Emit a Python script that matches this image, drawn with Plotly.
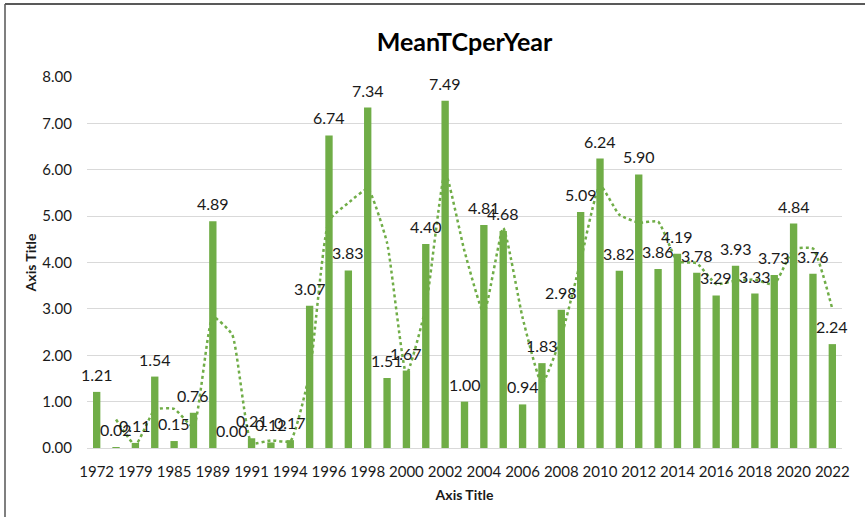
import plotly.graph_objects as go
import pandas as pd

# Years (categories) and mean TC values per year
years = ["1972", "1976", "1979", "1983", "1985", "1987", "1989", "1990", "1991", "1993",
         "1994", "1995", "1996", "1997", "1998", "1999", "2000", "2001", "2002", "2003",
         "2004", "2005", "2006", "2007", "2008", "2009", "2010", "2011", "2012", "2013",
         "2014", "2015", "2016", "2017", "2018", "2019", "2020", "2021", "2022"]
mean_tc = [1.21, 0.02, 0.11, 1.54, 0.15, 0.76, 4.89, 0.00, 0.21, 0.12,
           0.17, 3.07, 6.74, 3.83, 7.34, 1.51, 1.67, 4.40, 7.49, 1.00,
           4.81, 4.68, 0.94, 1.83, 2.98, 5.09, 6.24, 3.82, 5.90, 3.86,
           4.19, 3.78, 3.29, 3.93, 3.33, 3.73, 4.84, 3.76, 2.24]
y_ticks = [0, 1, 2, 3, 4, 5, 6, 7, 8]

GREEN = "#70AD47"
TEXT = "#1A1A1A"
FONT = "Lato, 'Open Sans', sans-serif"

# 2-period moving average trendline
trend = pd.Series(mean_tc).rolling(2).mean()

fig = go.Figure()
fig.add_trace(go.Bar(
    x=years, y=mean_tc,
    marker=dict(color=GREEN, line=dict(width=0)),
    showlegend=False,
))
fig.add_trace(go.Scatter(
    x=years[1:], y=trend[1:].tolist(),
    mode="lines",
    line=dict(color=GREEN, width=2.5, dash="dot", shape="spline", smoothing=0.45),
    showlegend=False,
    hoverinfo="skip",
))

# value labels above each bar (category index positions)
annotations = [
    dict(x=i, y=v, xref="x", yref="y", text=f"{v:.2f}", showarrow=False,
         yanchor="bottom", yshift=6,
         font=dict(family=FONT, size=16, color=TEXT))
    for i, v in enumerate(mean_tc)
]

fig.update_layout(
    width=865, height=517,
    margin=dict(l=87, r=23, t=77, b=69, autoexpand=False),
    paper_bgcolor="white", plot_bgcolor="white",
    bargap=0.62,
    title=dict(text="<b>MeanTCperYear</b>", x=0.5, xref="paper", xanchor="center",
               y=1 - 42 / 517, yref="container", yanchor="middle",
               font=dict(family=FONT, size=25, color="#000000")),
    font=dict(family=FONT, color=TEXT),
    annotations=annotations,
    xaxis=dict(
        type="category", tickmode="array", automargin=False,
        range=[-0.5, len(years) - 0.5],
        tickvals=years[::2], ticktext=years[::2],
        tickangle=0, tickfont=dict(size=15, color=TEXT),
        showgrid=False, showline=False, ticks="", ticklabelstandoff=13,
        title=dict(text="<b>Axis Title</b>", font=dict(size=14, color=TEXT), standoff=11),
    ),
    yaxis=dict(
        range=[0, 8], tickvals=y_ticks, ticktext=[f"{v:.2f}" for v in y_ticks],
        automargin=False,
        tickfont=dict(size=15, color=TEXT),
        showgrid=True, gridcolor="#D9D9D9", gridwidth=1,
        zeroline=True, zerolinecolor="#D9D9D9", zerolinewidth=1,
        showline=False, ticks="", ticklabelstandoff=14,
        title=dict(text="<b>Axis Title</b>", font=dict(size=14, color=TEXT), standoff=2),
    ),
    shapes=[
        dict(type="line", xref="paper", yref="paper",
             x0=(5 - 87) / 755, x1=(5 - 87) / 755, y0=(448 - 4) / 371, y1=(448 - 530) / 371,
             line=dict(color="#7F7F7F", width=2)),
        dict(type="line", xref="paper", yref="paper",
             x0=(5 - 87) / 755, x1=(880 - 87) / 755, y0=(448 - 4) / 371, y1=(448 - 4) / 371,
             line=dict(color="#595959", width=2)),
    ],
)

fig.write_html("out.html")
